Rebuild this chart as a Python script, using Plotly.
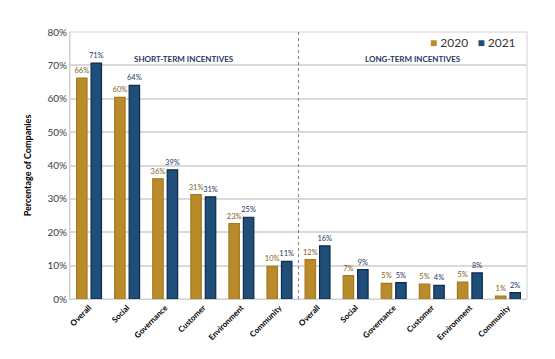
import plotly.graph_objects as go

categories = ["Overall", "Social", "Governance", "Customer", "Environment", "Community",
              "Overall", "Social", "Governance", "Customer", "Environment", "Community"]
values_2020 = [66.2, 60.4, 36.0, 31.3, 22.6, 9.8, 11.8, 7.0, 4.7, 4.5, 5.1, 0.9]
values_2021 = [70.7, 64.0, 38.7, 30.6, 24.5, 11.3, 15.9, 8.8, 4.9, 4.1, 7.8, 1.9]
labels_2020 = ["66%", "60%", "36%", "31%", "23%", "10%", "12%", "7%", "5%", "5%", "5%", "1%"]
labels_2021 = ["71%", "64%", "39%", "31%", "25%", "11%", "16%", "9%", "5%", "4%", "8%", "2%"]
y_ticks = [0, 10, 20, 30, 40, 50, 60, 70, 80]
section_titles = ["SHORT-TERM INCENTIVES", "LONG-TERM INCENTIVES"]
series_names = ["2020", "2021"]

x = list(range(len(categories)))
FONT = "Lato, Open Sans, sans-serif"
GOLD = "#B98B2B"
GOLD_EDGE = "#A67A1C"
BLUE = "#1F4E79"
BLUE_EDGE = "#0E2A4F"

fig = go.Figure()
fig.add_trace(go.Bar(
    x=x, y=values_2020, name=series_names[0],
    marker=dict(color=GOLD, line=dict(color=GOLD_EDGE, width=1.2)),
    text=labels_2020, textposition="outside", cliponaxis=False, constraintext="none",
    textfont=dict(size=7.5, color="#7F6020", family=FONT),
))
fig.add_trace(go.Bar(
    x=x, y=values_2021, name=series_names[1],
    marker=dict(color=BLUE, line=dict(color=BLUE_EDGE, width=1.2)),
    text=labels_2021, textposition="outside", cliponaxis=False, constraintext="none",
    textfont=dict(size=7.5, color="#1F3864", family=FONT),
))

fig.add_shape(type="line", xref="x", yref="y", x0=5.5, x1=5.5, y0=0, y1=80,
              line=dict(color="#808080", width=1, dash="dot"))
fig.add_shape(type="rect", xref="paper", yref="paper", x0=0, x1=1, y0=0, y1=1,
              line=dict(color="#D0D0D0", width=1), layer="below")

fig.add_annotation(x=2.5, y=71.9, xref="x", yref="y", text="<b>" + section_titles[0] + "</b>",
                   showarrow=False, font=dict(size=8, color="#1F3864", family=FONT))
fig.add_annotation(x=8.5, y=71.9, xref="x", yref="y", text="<b>" + section_titles[1] + "</b>",
                   showarrow=False, font=dict(size=8, color="#1F3864", family=FONT))

legend_text = (f"<span style='color:{GOLD}'>■</span> {series_names[0]}"
               f"&nbsp;&nbsp;&nbsp;<span style='color:{BLUE}'>■</span> {series_names[1]}")
fig.add_annotation(x=0.98, y=0.995, xref="paper", yref="paper", xanchor="right", yanchor="top",
                   text=legend_text, showarrow=False,
                   font=dict(size=12, color="#333333", family=FONT))

# page body has an 8px margin, so the figure is sized to fit inside the 555x359 window
fig.update_layout(
    width=547, height=351,
    margin=dict(l=62, r=28, t=24, b=60),
    paper_bgcolor="white", plot_bgcolor="white",
    barmode="group", bargap=0.24, bargroupgap=0.28,
    font=dict(family=FONT),
    showlegend=False,
    xaxis=dict(tickmode="array", tickvals=x, ticktext=["<b>" + c + "</b>" for c in categories],
               tickangle=-45, tickfont=dict(size=8, color="#000000", family=FONT),
               range=[-0.5, 11.5], showgrid=False, zeroline=False, automargin=False,
               showline=True, linecolor="#D0D0D0", ticks=""),
    yaxis=dict(range=[0, 80], tickvals=y_ticks, ticktext=[f"{v}%" for v in y_ticks],
               tickfont=dict(size=10, color="#404040", family=FONT), automargin=False,
               showgrid=True, gridcolor="#D9D9D9", gridwidth=2, zeroline=False,
               showline=True, linecolor="#D0D0D0",
               title=dict(text="<b>Percentage of Companies</b>", font=dict(size=9, color="#000000", family=FONT), standoff=14)),
)

fig.write_html("out.html")
